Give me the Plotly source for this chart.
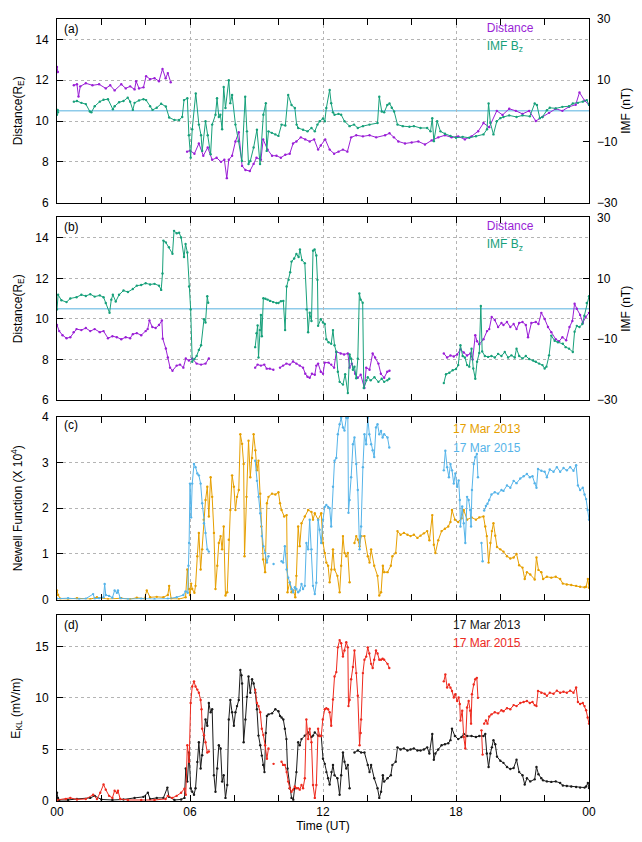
import plotly.graph_objects as go

# ---------------------------------------------------------------------------
# Data: (hour UT, value) pairs; None marks a data gap.
# ---------------------------------------------------------------------------

# Panel (a): 17 Mar 2013
A_DIST = [
    (0.00, 12.65), (0.04, 12.40), (0.40, None),
    (0.76, 11.75), (0.90, 11.80), (0.97, 11.20), (1.05, 11.70), (1.30, 11.85), (1.60, 11.75),
    (1.90, 11.80), (2.20, 11.60), (2.40, 11.75), (2.60, 11.50), (2.90, 11.80), (3.10, 11.60),
    (3.30, 11.70), (3.50, 11.55), (3.57, 11.95), (3.70, 11.60), (3.90, 11.65), (4.02, 12.20),
    (4.20, 12.05), (4.40, 12.10), (4.60, 11.95), (4.76, 12.55), (4.90, 12.10), (5.00, 12.35),
    (5.13, 11.90), (5.50, None),
    (5.87, 8.50), (6.00, 8.55), (6.20, 8.40), (6.40, 8.90), (6.60, 8.30), (6.80, 8.70),
    (7.00, 8.10), (7.20, 8.20), (7.40, 8.00), (7.55, 8.10), (7.66, 7.20), (7.75, 8.10),
    (7.90, 8.30), (8.05, 9.00), (8.20, 9.45), (8.35, 7.80), (8.50, 7.60), (8.70, 7.55),
    (8.87, 7.90), (9.00, 8.20), (9.20, 8.10), (9.30, 9.10), (9.50, 8.60), (9.70, 8.30),
    (9.90, 8.30), (10.10, 8.20), (10.30, 8.35), (10.50, 8.40), (10.65, 8.90), (10.80, 9.00),
    (11.00, 9.20), (11.20, 9.10), (11.40, 9.00), (11.60, 9.10), (11.78, 8.60), (11.90, 8.80),
    (12.10, 9.10), (12.30, 8.60), (12.50, 8.40), (12.70, 8.50), (12.90, 8.60), (13.10, 8.50),
    (13.27, 9.20), (13.50, 9.30), (13.80, 9.25), (14.10, 9.30), (14.40, 9.20), (14.80, 9.30),
    (15.00, 9.40), (15.20, 9.20), (15.40, 9.00), (15.70, 8.90), (16.00, 8.95), (16.30, 9.00),
    (16.60, 8.85), (16.90, 9.05), (17.20, 9.20), (17.50, 9.30), (17.80, 9.20), (18.10, 9.25),
    (18.40, 9.10), (18.70, 9.25), (19.00, 9.50), (19.24, 9.90), (19.50, 9.70), (19.84, 10.50),
    (20.10, 10.30), (20.40, 10.60), (20.70, 10.50), (21.00, 10.35), (21.30, 10.50), (21.60, 10.00),
    (21.90, 10.20), (22.20, 10.40), (22.50, 10.60), (22.80, 10.50), (23.10, 10.70), (23.40, 10.80),
    (23.57, 11.40), (23.80, 11.00), (24.00, 10.80),
]

A_BZ = [
    (0.00, -1.3), (0.03, 0.3), (0.05, -0.5), (0.40, None),
    (0.76, 3.0), (0.90, 3.2), (1.10, 2.6), (1.30, 2.2), (1.48, -0.2), (1.55, -0.5), (1.70, 1.5),
    (1.93, 3.0), (2.10, 3.6), (2.30, 3.8), (2.52, 0.5), (2.60, 1.5), (2.80, 2.8), (3.00, 3.2),
    (3.19, 4.3), (3.30, 3.0), (3.42, 0.3), (3.50, 2.6), (3.70, 3.4), (3.90, 3.8), (4.02, 3.5),
    (4.20, 1.5), (4.31, 0.3), (4.50, 1.0), (4.70, 2.3), (4.91, 1.4), (5.06, -2.2), (5.30, -3.0),
    (5.51, -3.0), (5.65, -2.0), (5.73, 3.5), (5.88, 4.1), (5.95, -8.0), (6.03, -15.3), (6.10, -6.0),
    (6.26, 5.7), (6.40, -4.5), (6.50, -8.0), (6.55, -13.1), (6.70, -3.4), (6.80, -8.0), (6.93, -14.2),
    (7.00, -4.5), (7.15, -1.3), (7.22, 4.1), (7.30, -2.0), (7.37, -1.3), (7.45, -6.0), (7.52, 7.8),
    (7.60, 0.9), (7.75, 10.0), (7.82, 2.5), (7.90, 5.2), (8.05, -4.5), (8.19, -9.9), (8.34, -16.4),
    (8.49, 4.6), (8.57, -6.7), (8.64, -17.4), (8.72, -16.4), (8.87, -12.0), (9.02, -6.2), (9.16, -17.4),
    (9.31, -1.3), (9.42, 2.5), (9.46, -13.1), (9.54, -6.7), (9.69, -7.2), (9.85, -7.7), (9.99, -8.2),
    (10.13, -4.5), (10.30, -4.8), (10.43, 5.2), (10.58, 1.9), (10.73, 0.9), (10.81, -4.5), (10.88, -5.6),
    (11.10, -6.2), (11.30, -6.7), (11.48, -5.6), (11.63, -6.7), (11.75, -4.5), (11.85, -3.4), (12.00, -2.5),
    (12.08, -3.4), (12.15, 0.9), (12.30, 6.8), (12.37, 2.5), (12.45, -0.5), (12.52, -1.3), (12.70, -1.0),
    (12.82, -1.3), (12.97, -3.4), (13.20, -5.0), (13.40, -4.5), (13.57, -5.6), (13.80, -5.0), (14.10, -4.5),
    (14.46, -4.0), (14.54, 4.6), (14.65, -0.2), (14.76, -0.5), (14.90, 1.9), (15.00, 2.4), (15.10, 1.0),
    (15.21, -0.2), (15.36, -4.5), (15.60, -5.0), (15.90, -5.2), (16.10, -5.0), (16.40, -5.6), (16.70, -5.6),
    (16.85, -6.7), (16.93, -2.4), (17.00, -9.9), (17.15, -3.4), (17.30, -6.7), (17.50, -7.5), (17.75, -8.2),
    (18.00, -8.8), (18.30, -8.5), (18.60, -8.8), (18.90, -8.3), (19.24, -7.7), (19.40, -6.0), (19.47, 2.4),
    (19.55, -4.0), (19.69, -7.7), (19.84, -3.4), (20.00, -2.4), (20.14, -2.0), (20.40, -1.5), (20.73, -2.0),
    (21.00, -1.5), (21.33, -1.8), (21.55, 2.4), (21.65, 1.9), (21.78, -2.4), (21.90, -2.0), (22.10, 0.2),
    (22.23, 1.0), (22.50, 0.8), (22.80, 1.3), (23.10, 1.5), (23.27, 2.4), (23.50, 2.6), (23.72, 3.0),
    (23.90, 3.5), (24.00, 2.0),
]

# Panel (b): 17 Mar 2015
B_DIST = [
    (0.00, 9.70), (0.10, 9.40), (0.25, 9.20), (0.43, 9.05), (0.60, 9.10), (0.75, 9.35), (0.88, 9.50),
    (1.10, 9.45), (1.30, 9.55), (1.50, 9.40), (1.70, 9.50), (1.93, 9.35), (2.10, 9.40), (2.30, 9.05),
    (2.50, 9.15), (2.70, 9.10), (2.90, 9.00), (3.10, 9.10), (3.30, 9.05), (3.42, 9.25), (3.60, 9.30),
    (3.80, 9.20), (4.00, 9.40), (4.09, 9.50), (4.17, 9.92), (4.30, 9.60), (4.45, 9.55), (4.60, 9.70),
    (4.73, 9.92), (4.77, 9.03), (4.91, 8.54), (5.00, 8.10), (5.10, 7.60), (5.21, 7.45), (5.40, 7.70),
    (5.55, 7.75), (5.70, 7.60), (5.81, 8.05), (5.95, 7.95), (6.10, 8.05), (6.30, 7.80), (6.50, 7.75),
    (6.70, 7.80), (6.85, 8.05), (7.50, None),
    (8.94, 7.60), (9.05, 7.75), (9.20, 7.70), (9.35, 7.75), (9.46, 7.55), (9.60, 7.55), (9.76, 7.50),
    (9.90, None),
    (10.06, 7.60), (10.20, 7.70), (10.35, 7.80), (10.50, 7.75), (10.65, 7.90), (10.80, 7.80), (10.95, 7.70),
    (11.10, 7.60), (11.20, 7.30), (11.30, 7.15), (11.40, 7.10), (11.50, 7.30), (11.63, 7.25), (11.70, 7.70),
    (11.78, 7.80), (11.90, 7.40), (12.00, 7.30), (12.08, 7.85), (12.25, 7.85), (12.37, 7.75), (12.50, 7.60),
    (12.60, 8.38), (12.80, 8.30), (12.95, 8.25), (13.12, 8.30), (13.20, 7.60), (13.30, 7.80), (13.45, 7.30),
    (13.57, 7.10), (13.70, 7.25), (13.87, 6.60), (13.95, 7.60), (14.10, 7.50), (14.24, 8.30), (14.35, 8.10),
    (14.50, 7.80), (14.61, 7.30), (14.76, 7.10), (14.90, 7.40), (15.00, 7.45), (16.00, None),
    (17.45, 8.30), (17.60, 8.10), (17.75, 8.20), (17.90, 8.15), (18.05, 8.25), (18.20, 8.50), (18.35, 8.35),
    (18.50, 8.20), (18.65, 8.30), (18.75, 8.00), (18.87, 9.20), (18.95, 8.90), (19.05, 8.75), (19.24, 9.00),
    (19.40, 9.40), (19.50, 9.50), (19.61, 10.10), (19.75, 9.95), (19.90, 9.60), (20.05, 9.80), (20.14, 9.70),
    (20.30, 9.85), (20.45, 9.60), (20.60, 9.75), (20.73, 9.50), (20.85, 9.80), (21.00, 9.85), (21.15, 9.70),
    (21.25, 9.10), (21.40, 9.80), (21.60, 9.85), (21.72, 9.75), (21.85, 10.30), (22.00, 10.00), (22.15, 9.60),
    (22.30, 9.35), (22.50, 9.00), (22.65, 8.90), (22.80, 9.10), (22.97, 8.95), (23.12, 9.60), (23.25, 9.90),
    (23.35, 10.75), (23.45, 10.50), (23.60, 10.20), (23.72, 9.80), (23.85, 10.10), (24.00, 10.30),
]

B_BZ = [
    (0.00, -0.2), (0.05, 4.6), (0.20, 2.8), (0.43, 2.2), (0.60, 3.4), (0.88, 3.8), (1.10, 4.6), (1.30, 4.2),
    (1.50, 4.8), (1.70, 4.0), (1.93, 4.4), (2.10, 3.8), (2.20, 1.9), (2.37, -1.3), (2.45, 3.0), (2.52, 4.6),
    (2.65, 2.4), (2.80, 4.6), (3.00, 6.0), (3.20, 5.5), (3.42, 6.5), (3.60, 7.6), (3.80, 7.8), (4.00, 8.4),
    (4.20, 8.0), (4.40, 8.2), (4.60, 7.6), (4.70, 6.2), (4.76, 11.6), (4.80, 22.4), (4.91, 21.8),
    (5.05, 20.2), (5.21, 18.1), (5.28, 25.6), (5.40, 24.8), (5.51, 25.0), (5.60, 23.4), (5.73, 17.0),
    (5.80, 21.3), (5.88, 18.5), (5.96, 7.3), (6.03, -0.2), (6.10, -17.4), (6.20, -16.5), (6.30, -15.5),
    (6.40, -13.5), (6.50, -12.0), (6.63, -3.4), (6.70, -4.5), (6.78, 4.1), (6.82, 2.0), (7.50, None),
    (8.94, -12.6), (9.00, -8.0), (9.05, -5.5), (9.09, -16.0), (9.15, -7.0), (9.20, -2.0), (9.24, -9.0),
    (9.31, 3.5), (9.40, 3.3), (9.50, 3.0), (9.61, 2.6), (9.75, 2.2), (9.90, 1.9), (9.99, 1.9), (10.10, 2.5),
    (10.21, 2.6), (10.29, -7.0), (10.36, 7.3), (10.45, 9.5), (10.52, 12.0), (10.58, 15.5), (10.70, 16.5),
    (10.80, 18.0), (10.90, 17.0), (10.96, 19.5), (11.05, 16.0), (11.18, 15.0), (11.26, -0.2), (11.33, -7.7),
    (11.40, -1.3), (11.48, -4.0), (11.55, 19.1), (11.62, 19.5), (11.70, 17.5), (11.75, 9.5), (11.78, -5.6),
    (11.90, -3.4), (12.00, -4.5), (12.08, -5.0), (12.15, -10.0), (12.25, -11.0), (12.37, -11.5),
    (12.45, -7.0), (12.52, -12.0), (12.60, -14.2), (12.67, -20.7), (12.75, -24.0), (12.90, -24.9),
    (13.00, -21.5), (13.12, -27.7), (13.20, -15.0), (13.27, -16.4), (13.35, -20.0), (13.42, -19.0),
    (13.50, -22.8), (13.57, -16.4), (13.64, 5.0), (13.70, 3.0), (13.79, 2.0), (13.84, -26.0),
    (13.95, -23.5), (14.02, -22.5), (14.15, -23.5), (14.32, -22.5), (14.50, -24.0), (14.65, -23.0),
    (14.76, -24.0), (14.90, -23.5), (14.99, -23.0), (16.00, None),
    (17.45, -24.4), (17.55, -21.5), (17.70, -21.0), (17.85, -20.2), (18.00, -19.8), (18.10, -18.5),
    (18.20, -12.0), (18.30, -15.5), (18.40, -16.0), (18.50, -18.5), (18.60, -19.0), (18.70, -13.1),
    (18.78, -19.6), (18.87, -23.0), (18.95, -17.4), (19.05, -14.5), (19.12, 0.9), (19.18, -14.0),
    (19.30, -15.5), (19.45, -15.8), (19.60, -15.5), (19.75, -16.0), (19.90, -14.8), (20.05, -15.5),
    (20.20, -14.2), (20.35, -16.0), (20.50, -15.3), (20.65, -16.0), (20.73, -13.1), (20.85, -15.5),
    (21.00, -16.3), (21.15, -15.5), (21.30, -16.5), (21.48, -17.0), (21.60, -17.4), (21.75, -18.0),
    (21.90, -18.5), (22.00, -19.6), (22.08, -19.0), (22.20, -15.3), (22.30, -8.8), (22.45, -10.5),
    (22.60, -11.0), (22.82, -11.5), (22.95, -12.6), (23.10, -13.1), (23.27, -14.2), (23.35, -7.5),
    (23.45, -5.6), (23.57, -6.0), (23.70, -5.0), (23.79, -2.3), (23.90, 1.9), (24.00, 4.1),
]

# Panel (c): Newell coupling function (x 10^4)
C_2013 = [
    (0.00, 0.20), (0.05, 0.10), (0.15, 0.02), (0.50, 0.01), (0.90, 0.03), (1.50, 0.01), (1.80, 0.05),
    (2.30, 0.01), (2.90, 0.03), (3.30, 0.01), (3.60, 0.04), (3.95, 0.02), (4.05, 0.20), (4.20, 0.05),
    (4.50, 0.06), (4.80, 0.05), (5.00, 0.10), (5.06, 0.30), (5.15, 0.02), (5.50, 0.01), (5.80, 0.05),
    (5.88, 0.66), (5.95, 0.23), (6.00, 0.10), (6.05, 0.35), (6.10, 0.23), (6.20, 0.15), (6.25, 0.30),
    (6.33, 0.95), (6.40, 1.46), (6.48, 0.66), (6.55, 1.10), (6.62, 1.75), (6.70, 2.18), (6.78, 2.47),
    (6.85, 1.82), (6.93, 2.68), (7.00, 2.25), (7.08, 1.46), (7.15, 0.23), (7.23, 0.74), (7.30, 1.24),
    (7.38, 1.39), (7.45, 1.10), (7.52, 1.60), (7.60, 0.09), (7.68, 0.16), (7.75, 1.31), (7.82, 1.96),
    (7.90, 2.72), (7.98, 2.47), (8.05, 1.96), (8.12, 2.25), (8.20, 2.40), (8.27, 3.62), (8.35, 3.41),
    (8.42, 2.97), (8.46, 0.95), (8.55, 2.25), (8.64, 3.48), (8.72, 2.68), (8.80, 3.10), (8.87, 3.62),
    (8.95, 3.27), (9.02, 2.83), (9.09, 3.04), (9.17, 2.32), (9.22, 1.60), (9.30, 0.88), (9.39, 0.60),
    (9.47, 2.11), (9.54, 2.25), (9.70, 2.32), (9.85, 2.30), (9.99, 2.35), (10.06, 2.11), (10.13, 1.96),
    (10.25, 1.82), (10.36, 1.85), (10.40, 0.16), (10.50, 0.38), (10.58, 0.16), (10.66, 0.20), (10.75, 0.05),
    (10.80, 0.52), (10.88, 1.60), (10.95, 1.17), (11.03, 1.67), (11.18, 1.82), (11.33, 1.96), (11.48, 1.92),
    (11.55, 1.75), (11.63, 1.89), (11.78, 1.75), (11.92, 1.89), (12.00, 1.24), (12.08, 1.02), (12.15, 0.81),
    (12.23, 0.74), (12.30, 0.38), (12.38, 0.66), (12.45, 1.10), (12.52, 0.66), (12.65, 0.52), (12.75, 0.16),
    (12.82, 0.74), (12.90, 1.39), (12.97, 1.02), (13.05, 0.95), (13.12, 1.02), (13.20, 0.38), (13.30, None),
    (13.42, 1.24), (13.50, 1.39), (13.57, 1.31), (13.65, 1.17), (13.72, 1.39), (13.87, 1.39), (14.02, 0.95),
    (14.10, 0.81), (14.17, 1.10), (14.31, 0.74), (14.46, 0.52), (14.54, 0.09), (14.62, 0.16), (14.70, 0.74),
    (14.76, 0.60), (14.91, 0.60), (15.06, 0.74), (15.13, 0.95), (15.28, 1.02), (15.36, 1.50), (15.50, 1.42),
    (15.65, 1.46), (15.81, 1.42), (15.95, 1.39), (16.10, 1.42), (16.26, 1.35), (16.40, 1.40), (16.55, 1.45),
    (16.70, 1.50), (16.80, 1.30), (16.93, 1.85), (17.00, 1.20), (17.07, 1.02), (17.20, 1.30), (17.35, 1.50),
    (17.50, 1.55), (17.65, 1.60), (17.75, 1.70), (17.82, 1.96), (17.95, 1.75), (18.10, 1.70), (18.25, 1.78),
    (18.35, 1.96), (18.50, 1.75), (18.70, 1.80), (18.90, 1.75), (19.05, 1.80), (19.24, 1.82), (19.32, 1.60),
    (19.39, 1.39), (19.47, 0.81), (19.55, 1.24), (19.62, 1.50), (19.69, 1.67), (19.77, 1.40), (19.85, 1.15),
    (20.00, 1.10), (20.14, 1.05), (20.30, 0.95), (20.45, 0.90), (20.60, 0.92), (20.73, 1.00), (20.85, 0.75),
    (21.00, 0.70), (21.10, 0.45), (21.20, 0.60), (21.35, 0.55), (21.55, 0.44), (21.63, 0.92), (21.72, 0.65),
    (21.85, 0.60), (21.93, 0.45), (22.10, 0.50), (22.30, 0.48), (22.50, 0.50), (22.70, 0.45), (22.82, 0.35),
    (23.00, 0.33), (23.20, 0.32), (23.42, 0.30), (23.60, 0.28), (23.80, 0.27), (23.87, 0.28), (23.95, 0.45),
    (24.00, 0.26),
]

C_2015 = [
    (0.00, 0.02), (0.50, 0.03), (1.00, 0.01), (1.30, 0.02), (1.63, 0.12), (1.70, 0.02), (1.90, 0.03),
    (2.10, 0.05), (2.15, 0.34), (2.20, 0.10), (2.35, 0.08), (2.50, 0.04), (2.60, 0.20), (2.70, 0.15),
    (2.75, 0.20), (2.85, 0.03), (3.20, 0.01), (3.80, 0.02), (4.40, 0.01), (5.00, 0.02), (5.40, 0.05),
    (5.70, 0.10), (5.80, 0.18), (5.90, 0.15), (5.93, 0.74), (5.96, 1.24), (6.00, 2.54), (6.05, 1.80),
    (6.10, 2.54), (6.18, 2.97), (6.25, 2.90), (6.33, 2.76), (6.40, 2.72), (6.48, 2.54), (6.55, 2.11),
    (6.63, 1.67), (6.70, 1.46), (6.78, 1.10), (6.85, 1.05), (7.50, None),
    (8.94, 3.04), (9.02, 2.60), (9.09, 2.25), (9.17, 1.89), (9.24, 1.39), (9.31, 1.17), (9.39, 1.02),
    (9.47, 0.81), (9.54, 0.95), (9.65, None), (9.77, 0.78), (9.90, None),
    (10.13, 0.84), (10.20, 0.81), (10.28, 1.17), (10.36, 0.66), (10.43, 0.48), (10.50, 0.37), (10.58, 0.23),
    (10.65, 0.16), (10.73, 0.27), (10.80, 0.23), (10.88, 0.16), (10.95, 0.20), (11.03, 0.34), (11.10, 0.23),
    (11.18, 0.30), (11.25, 1.24), (11.33, 1.10), (11.40, 1.75), (11.48, 1.10), (11.55, 0.30), (11.63, 0.12),
    (11.70, 0.37), (11.78, 1.75), (11.85, 1.53), (11.92, 1.24), (12.00, 1.75), (12.08, 2.03), (12.15, 2.07),
    (12.23, 2.03), (12.30, 2.00), (12.37, 1.60), (12.45, 2.47), (12.52, 3.04), (12.60, 3.10), (12.67, 3.62),
    (12.75, 3.84), (12.82, 3.98), (12.90, 3.77), (12.97, 3.70), (13.05, 3.98), (13.12, 3.98), (13.15, 1.90),
    (13.20, 2.18), (13.27, 2.68), (13.35, 3.40), (13.42, 3.55), (13.50, 2.97), (13.57, 2.40), (13.65, 1.10),
    (13.70, 1.39), (13.72, 1.60), (13.80, 2.90), (13.87, 3.62), (13.95, 3.40), (14.02, 3.98), (14.09, 3.62),
    (14.17, 3.40), (14.24, 3.27), (14.31, 3.12), (14.39, 3.77), (14.46, 3.84), (14.54, 3.62), (14.62, 3.69),
    (14.69, 3.55), (14.76, 3.62), (14.91, 3.55), (14.99, 3.33), (16.00, None),
    (17.45, 2.83), (17.52, 3.26), (17.60, 2.90), (17.68, 2.68), (17.75, 2.97), (17.82, 2.83), (17.90, 2.54),
    (17.97, 2.76), (18.05, 2.47), (18.12, 2.61), (18.17, 2.18), (18.20, 1.60), (18.28, 2.04), (18.35, 1.67),
    (18.42, 1.24), (18.50, 2.25), (18.57, 2.18), (18.64, 1.96), (18.68, 1.60), (18.72, 2.40), (18.80, 2.97),
    (18.87, 3.12), (18.94, 3.19), (18.99, 2.68), (19.07, None), (19.15, 1.24), (19.20, 0.84), (19.23, None),
    (19.27, 1.95), (19.35, 2.05), (19.42, 2.10), (19.50, 2.18), (19.60, 2.30), (19.75, 2.35), (19.90, 2.32),
    (20.05, 2.40), (20.14, 2.38), (20.30, 2.50), (20.45, 2.45), (20.60, 2.60), (20.73, 2.55), (20.90, 2.65),
    (21.05, 2.70), (21.20, 2.75), (21.33, 2.68), (21.45, 2.70), (21.55, 2.55), (21.63, 2.45), (21.70, 2.86),
    (21.85, 2.82), (22.00, 2.80), (22.10, 2.68), (22.23, 2.85), (22.40, 2.80), (22.55, 2.90), (22.70, 2.80),
    (22.85, 2.88), (23.00, 2.83), (23.15, 2.90), (23.30, 2.82), (23.42, 2.94), (23.50, 2.50), (23.60, 2.40),
    (23.72, 2.45), (23.80, 2.30), (23.87, 2.20), (23.94, 1.96), (24.00, 1.75),
]

# Panel (d): Kan-Lee electric field (mV/m)
D_2013 = [
    (0.00, 0.80), (0.04, 0.30), (0.10, 0.10), (0.50, 0.10), (0.90, 0.20), (1.50, 0.30), (1.70, 0.50),
    (2.00, 0.15), (2.50, 0.10), (3.00, 0.15), (3.50, 0.30), (3.90, 0.40), (4.10, 0.80), (4.20, 0.20),
    (4.50, 0.30), (4.80, 0.30), (4.98, 1.30), (5.05, 0.40), (5.30, 0.10), (5.60, 0.15), (5.75, 0.30),
    (5.81, 3.15), (5.88, 1.88), (5.96, 4.70), (6.03, 1.24), (6.10, 0.90), (6.18, 0.60), (6.25, 1.24),
    (6.33, 3.79), (6.40, 5.70), (6.48, 3.15), (6.55, 4.43), (6.63, 6.34), (6.70, 7.90), (6.78, 7.30),
    (6.85, 9.50), (6.93, 8.60), (7.00, 8.90), (7.08, 2.50), (7.15, 0.90), (7.23, 3.15), (7.30, 5.40),
    (7.38, 5.10), (7.45, 1.88), (7.52, 2.50), (7.60, 0.30), (7.68, 1.55), (7.75, 7.90), (7.82, 9.80),
    (7.90, 8.60), (7.98, 7.30), (8.05, 8.60), (8.12, 9.20), (8.20, 9.80), (8.27, 12.70), (8.32, 12.20),
    (8.35, 11.40), (8.42, 5.70), (8.50, 7.90), (8.57, 10.10), (8.64, 12.07), (8.72, 10.50), (8.80, 11.80),
    (8.87, 11.40), (8.95, 10.50), (9.02, 8.90), (9.09, 6.34), (9.17, 5.40), (9.24, 4.40), (9.30, 3.50),
    (9.36, 2.80), (9.42, 6.60), (9.47, 8.25), (9.54, 8.40), (9.70, 8.50), (9.85, 8.90), (9.99, 8.70),
    (10.06, 8.25), (10.13, 8.10), (10.21, 7.90), (10.28, 7.00), (10.35, 6.00), (10.40, 3.15), (10.50, 1.24),
    (10.58, 0.30), (10.66, 0.13), (10.73, 1.24), (10.80, 2.80), (10.88, 5.70), (10.95, 5.40), (11.03, 6.00),
    (11.18, 6.34), (11.33, 6.65), (11.48, 6.20), (11.55, 6.34), (11.63, 6.65), (11.78, 6.34), (11.92, 6.34),
    (12.00, 4.10), (12.08, 3.60), (12.15, 2.80), (12.23, 2.20), (12.30, 1.60), (12.38, 2.80), (12.45, 3.50),
    (12.52, 2.50), (12.65, 2.20), (12.75, 0.60), (12.82, 2.50), (12.90, 4.70), (12.97, 3.80), (13.05, 3.15),
    (13.12, 3.50), (13.20, 1.24), (13.30, None),
    (13.42, 4.70), (13.57, 4.90), (13.72, 4.70), (13.87, 4.70), (14.02, 3.50), (14.10, 2.80), (14.17, 3.50),
    (14.31, 2.20), (14.46, 1.24), (14.54, 0.30), (14.62, 0.90), (14.70, 2.50), (14.76, 1.88), (14.91, 2.20),
    (15.06, 2.50), (15.13, 3.50), (15.28, 3.80), (15.36, 5.20), (15.50, 5.00), (15.65, 5.10), (15.81, 4.90),
    (15.95, 5.00), (16.10, 5.10), (16.26, 4.90), (16.40, 4.90), (16.55, 5.00), (16.70, 5.20), (16.80, 4.60),
    (16.93, 6.50), (17.00, 4.00), (17.07, 4.60), (17.20, 5.00), (17.35, 5.40), (17.50, 5.50), (17.65, 5.60),
    (17.75, 5.90), (17.82, 7.00), (17.95, 6.30), (18.10, 6.00), (18.25, 6.20), (18.35, 6.50), (18.50, 6.30),
    (18.70, 6.30), (18.90, 6.20), (19.05, 6.30), (19.24, 6.30), (19.32, 6.50), (19.39, 4.60), (19.47, 3.30),
    (19.55, 4.60), (19.62, 5.20), (19.69, 5.90), (19.77, 5.50), (19.85, 4.30), (20.00, 3.90), (20.14, 3.70),
    (20.30, 3.30), (20.45, 3.10), (20.60, 3.20), (20.73, 4.00), (20.85, 2.80), (21.00, 2.50), (21.10, 1.60),
    (21.20, 2.20), (21.35, 1.90), (21.55, 2.10), (21.63, 3.30), (21.72, 2.60), (21.85, 2.20), (21.93, 2.00),
    (22.10, 1.90), (22.30, 1.85), (22.50, 1.90), (22.70, 1.75), (22.82, 1.50), (23.00, 1.45), (23.20, 1.40),
    (23.42, 1.35), (23.60, 1.30), (23.80, 1.30), (23.87, 1.40), (23.95, 1.75), (24.00, 1.25),
]

D_2015 = [
    (0.00, 0.10), (0.40, 0.20), (0.60, 0.30), (0.90, 0.15), (1.30, 0.20), (1.63, 0.60), (1.80, 0.20),
    (1.95, 0.80), (2.10, 1.60), (2.20, 1.10), (2.35, 0.50), (2.50, 0.30), (2.60, 1.00), (2.70, 0.80),
    (2.75, 1.00), (2.85, 0.20), (3.20, 0.10), (3.80, 0.10), (4.40, 0.10), (4.90, 0.20), (5.00, 0.50),
    (5.20, 0.30), (5.40, 0.50), (5.60, 0.80), (5.75, 1.20), (5.81, 0.60), (5.88, 5.40), (5.96, 3.80),
    (6.03, 9.50), (6.10, 11.10), (6.18, 11.60), (6.25, 11.10), (6.33, 10.80), (6.40, 10.50), (6.48, 9.80),
    (6.52, 8.90), (6.55, 7.00), (6.63, 6.40), (6.70, 5.70), (6.78, 4.70), (6.85, 4.80), (7.50, None),
    (8.94, 10.80), (9.02, 9.50), (9.09, 9.20), (9.17, 8.60), (9.24, 7.00), (9.31, 6.40), (9.39, 5.40),
    (9.47, 4.10), (9.54, 5.10), (9.65, None), (9.77, 3.60), (9.90, None),
    (10.13, 3.80), (10.20, 3.50), (10.28, 3.50), (10.36, 2.80), (10.43, 1.88), (10.50, 1.24), (10.58, 0.90),
    (10.65, 1.10), (10.73, 1.40), (10.80, 1.24), (10.88, 1.24), (10.95, 1.10), (11.03, 1.55), (11.10, 1.24),
    (11.18, 2.20), (11.25, 7.90), (11.33, 6.00), (11.40, 7.00), (11.48, 5.70), (11.55, 1.55), (11.63, 0.30),
    (11.70, 1.55), (11.78, 7.00), (11.85, 6.30), (11.92, 6.30), (11.99, 7.90), (12.08, 8.90), (12.15, 9.00),
    (12.23, 8.90), (12.30, 8.60), (12.37, 7.30), (12.45, 9.84), (12.52, 12.07), (12.60, 12.50), (12.67, 14.90),
    (12.75, 15.60), (12.82, 15.30), (12.90, 14.00), (12.97, 14.60), (13.05, 15.40), (13.12, 14.90),
    (13.15, 9.20), (13.20, 9.80), (13.27, 11.80), (13.35, 13.00), (13.42, 14.60), (13.50, 12.40),
    (13.57, 10.20), (13.65, 5.40), (13.70, 6.60), (13.72, 7.90), (13.80, 12.40), (13.87, 13.70),
    (13.95, 14.00), (14.02, 14.90), (14.09, 14.30), (14.17, 13.30), (14.24, 12.90), (14.31, 13.70),
    (14.39, 14.60), (14.46, 14.30), (14.54, 13.70), (14.62, 13.70), (14.69, 13.80), (14.76, 13.70),
    (14.91, 13.30), (14.99, 12.90), (16.00, None),
    (17.45, 11.60), (17.52, 12.26), (17.60, 11.00), (17.68, 11.30), (17.75, 10.99), (17.82, 10.67),
    (17.90, 10.03), (17.97, 10.35), (18.05, 9.70), (18.12, 10.03), (18.17, 9.40), (18.20, 7.80), (18.28, 8.76),
    (18.35, 6.20), (18.42, 5.10), (18.50, 9.07), (18.57, 9.70), (18.64, 8.76), (18.68, 7.50), (18.72, 10.35),
    (18.80, 11.30), (18.87, 11.80), (18.94, 11.94), (18.99, 10.00), (19.07, None), (19.15, 6.85),
    (19.20, 4.50), (19.23, None),
    (19.27, 7.50), (19.35, 7.80), (19.42, 7.50), (19.50, 8.20), (19.60, 8.40), (19.75, 8.60), (19.90, 8.50),
    (20.05, 8.80), (20.14, 8.70), (20.30, 9.00), (20.45, 8.90), (20.60, 9.30), (20.73, 9.20), (20.90, 9.50),
    (21.05, 9.60), (21.20, 9.70), (21.33, 9.50), (21.45, 9.60), (21.55, 9.30), (21.63, 9.20), (21.70, 10.67),
    (21.85, 10.50), (22.00, 10.40), (22.10, 10.20), (22.23, 10.50), (22.40, 10.40), (22.55, 10.70),
    (22.70, 10.50), (22.85, 10.60), (23.00, 10.50), (23.15, 10.70), (23.30, 10.50), (23.42, 11.00),
    (23.50, 9.60), (23.60, 9.40), (23.72, 9.50), (23.80, 9.20), (23.87, 8.80), (23.94, 8.10), (24.00, 7.50),
]

HOUR_TICKS = [0, 6, 12, 18, 24]
HOUR_LABELS = ["00", "06", "12", "18", "00"]
MINOR_TICKS = [2, 4, 8, 10, 14, 16, 20, 22]

# ---------------------------------------------------------------------------
PURPLE = "#9a1fd6"
GREEN = "#17a07a"
ORANGE = "#e69f00"
SKY = "#56b4e9"
BLACK = "#1a1a1a"
RED = "#ee2a1e"
ZERO_LINE = "#8ecbea"
FONT = "Liberation Sans, Arial, Helvetica, sans-serif"
FS = 12


def xy(series):
    return [p[0] for p in series], [p[1] for p in series]


def line_trace(series, color, xaxis, yaxis, name):
    xs, ys = xy(series)
    return go.Scatter(
        x=xs, y=ys, mode="lines+markers", name=name,
        line=dict(color=color, width=1),
        marker=dict(color=color, size=2.4, symbol="circle"),
        connectgaps=False, xaxis=xaxis, yaxis=yaxis, showlegend=False,
    )


fig = go.Figure()
fig.add_trace(line_trace(A_DIST, PURPLE, "x", "y", "Distance"))
fig.add_trace(line_trace(A_BZ, GREEN, "x", "y2", "IMF Bz"))
fig.add_trace(line_trace(B_DIST, PURPLE, "x2", "y3", "Distance"))
fig.add_trace(line_trace(B_BZ, GREEN, "x2", "y4", "IMF Bz"))
fig.add_trace(line_trace(C_2013, ORANGE, "x3", "y5", "17 Mar 2013"))
fig.add_trace(line_trace(C_2015, SKY, "x3", "y5", "17 Mar 2015"))
fig.add_trace(line_trace(D_2013, BLACK, "x4", "y6", "17 Mar 2013"))
fig.add_trace(line_trace(D_2015, RED, "x4", "y6", "17 Mar 2015"))

# Panel pixel extents (top, bottom) inside a 13..805 px plotting band
PLOT_TOP, PLOT_BOT = 13, 805
PLOT_LEFT, PLOT_RIGHT = 57, 593

PANELS = {
    "a": dict(top=13, bot=199, rng=[6, 15], xa="x", ya="y"),
    "b": dict(top=214, bot=399, rng=[6, 15], xa="x2", ya="y3"),
    "c": dict(top=416, bot=601, rng=[0, 4], xa="x3", ya="y5"),
    "d": dict(top=617, bot=805, rng=[0, 18], xa="x4", ya="y6"),
}


def dom(p):
    h = PLOT_BOT - PLOT_TOP
    return [(PLOT_BOT - p["bot"]) / h, (PLOT_BOT - p["top"]) / h]


tick_font = dict(family=FONT, size=FS, color="black")
title_font = dict(family=FONT, size=FS, color="black")


def x_axis(anchor, show_labels):
    return dict(
        anchor=anchor, range=[0, 24], tickmode="array", tickvals=HOUR_TICKS, ticktext=HOUR_LABELS,
        ticks="inside", ticklen=6, tickwidth=1, tickcolor="black",
        showline=True, linecolor="black", linewidth=1, mirror="allticks",
        showgrid=True, gridcolor="#b4b4b4", griddash="dot", gridwidth=1,
        zeroline=False, showticklabels=show_labels, tickfont=tick_font,
        minor=dict(tickmode="array", tickvals=MINOR_TICKS, ticks="inside", ticklen=6,
                   tickcolor="black", showgrid=False),
    )


def y_axis(p, anchor, vals, title, standoff):
    return dict(
        domain=dom(p), anchor=anchor, range=p["rng"], tickmode="array", tickvals=vals,
        ticks="inside", ticklen=6, tickcolor="black",
        showline=True, linecolor="black", linewidth=1, mirror=True,
        showgrid=True, gridcolor="#b4b4b4", griddash="dot", gridwidth=1,
        zeroline=False, tickfont=tick_font, ticklabelstandoff=5,
        title=dict(text=title, font=title_font, standoff=standoff),
    )


def imf_axis(overlay, anchor):
    return dict(
        overlaying=overlay, anchor=anchor, side="right", range=[-30, 30],
        tickmode="array", tickvals=[-30, -10, 10, 30],
        ticks="inside", ticklen=6, tickcolor="black", showline=False,
        showgrid=False, zeroline=False, tickfont=tick_font, ticklabelstandoff=7,
        title=dict(text="IMF (nT)", font=title_font, standoff=4),
    )


fig.update_layout(
    width=642, height=842,
    margin=dict(l=PLOT_LEFT, r=642 - PLOT_RIGHT, t=PLOT_TOP, b=842 - PLOT_BOT),
    paper_bgcolor="white", plot_bgcolor="white",
    font=dict(family=FONT, size=FS, color="black"),
    showlegend=False,
    xaxis=x_axis("y", False),
    xaxis2=x_axis("y3", False),
    xaxis3=x_axis("y5", False),
    xaxis4=dict(x_axis("y6", True), title=dict(text="Time (UT)", font=title_font, standoff=2)),
    yaxis=y_axis(PANELS["a"], "x", [6, 8, 10, 12, 14], "Distance(R<sub>E</sub>)", 10),
    yaxis2=imf_axis("y", "x"),
    yaxis3=y_axis(PANELS["b"], "x2", [6, 8, 10, 12, 14], "Distance(R<sub>E</sub>)", 10),
    yaxis4=imf_axis("y3", "x2"),
    yaxis5=y_axis(PANELS["c"], "x3", [0, 1, 2, 3, 4], "Newell Function (X 10<sup>4</sup>)", 16),
    yaxis6=y_axis(PANELS["d"], "x4", [0, 5, 10, 15], "E<sub>KL</sub> (mV/m)", 12),
)

# IMF Bz = 0 reference lines
for xr, yr in (("x", "y2"), ("x2", "y4")):
    fig.add_shape(type="line", xref=xr, yref=yr, x0=0, x1=24, y0=0, y1=0,
                  line=dict(color=ZERO_LINE, width=1.5), layer="below")


def label(text, px, py, color, key):
    """Place a text label at pixel position (px, py) within panel `key`."""
    p = PANELS[key]
    hx = (px - PLOT_LEFT) / (PLOT_RIGHT - PLOT_LEFT) * 24.0
    lo, hi = p["rng"]
    vy = lo + (p["bot"] - py) / (p["bot"] - p["top"]) * (hi - lo)
    fig.add_trace(go.Scatter(
        x=[hx], y=[vy], mode="text", text=[text], textposition="middle right",
        textfont=dict(family=FONT, size=FS, color=color),
        xaxis=p["xa"], yaxis=p["ya"], showlegend=False, hoverinfo="skip", cliponaxis=False,
    ))


label("(a)", 64, 24, "black", "a")
label("(b)", 64, 225, "black", "b")
label("(c)", 64, 425, "black", "c")
label("(d)", 64, 628, "black", "d")

label("Distance", 490, 23, PURPLE, "a")
label("IMF B<sub>z</sub>", 490, 41, GREEN, "a")
label("Distance", 490, 224, PURPLE, "b")
label("IMF B<sub>z</sub>", 490, 242, GREEN, "b")
label("17 Mar 2013", 456, 429, ORANGE, "c")
label("17 Mar 2015", 456, 448, SKY, "c")
label("17 Mar 2013", 456, 628, BLACK, "d")
label("17 Mar 2015", 456, 646, RED, "d")

fig.write_html("out.html")
